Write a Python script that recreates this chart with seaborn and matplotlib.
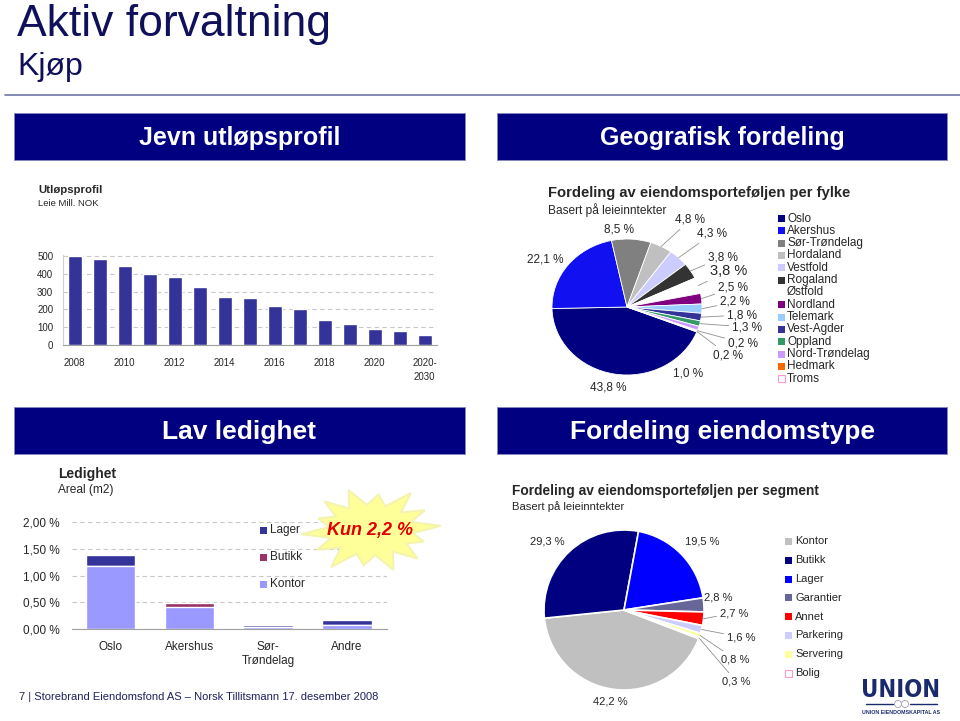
import numpy as np
import matplotlib
matplotlib.use("Agg")
import matplotlib.pyplot as plt
import seaborn as sns
from matplotlib.transforms import Affine2D
from matplotlib.patches import Rectangle, Polygon, Circle
from matplotlib.lines import Line2D

# ------------------------------------------------------------------ data
expiry_years = ["2008", "2009", "2010", "2011", "2012", "2013", "2014", "2015",
                "2016", "2017", "2018", "2019", "2020", "2021", "2020-2030"]
expiry_values = [500, 484, 443, 400, 380, 328, 268, 261, 217, 204, 140, 120, 89, 77, 55]
expiry_ticklabels = ["2008", "", "2010", "", "2012", "", "2014", "", "2016", "",
                     "2018", "", "2020", "", "2020-\n2030"]
expiry_yticks = [0, 100, 200, 300, 400, 500]

counties = ["Oslo", "Akershus", "Sør-Trøndelag", "Hordaland", "Vestfold", "Rogaland",
            "Østfold", "Nordland", "Telemark", "Vest-Agder", "Oppland",
            "Nord-Trøndelag", "Hedmark", "Troms"]
county_share = [43.8, 22.1, 8.5, 4.8, 4.3, 3.8, 3.8, 2.5, 2.2, 1.8, 1.3, 1.0, 0.2, 0.2]

vacancy_regions = ["Oslo", "Akershus", "Sør-\nTrøndelag", "Andre"]
vacancy_kontor = [1.18, 0.42, 0.03, 0.07]
vacancy_butikk = [0.00, 0.07, 0.00, 0.00]
vacancy_lager = [0.21, 0.00, 0.04, 0.10]
vacancy_types = ["Lager", "Butikk", "Kontor"]
vacancy_yticks = [0.0, 0.5, 1.0, 1.5, 2.0]

segments = ["Kontor", "Butikk", "Lager", "Garantier", "Annet", "Parkering",
            "Servering", "Bolig"]
segment_share = [42.2, 29.3, 19.5, 2.8, 2.7, 1.6, 0.8, 0.3]

# ------------------------------------------------------------------ style
NAVY = "#000080"
BAR_BLUE = "#333399"
TITLE_C = "#10105A"
county_colors = ["#000080", "#1010F0", "#808080", "#C0C0C0", "#CCCCFF", "#333333",
                 "#FFFFFF", "#800080", "#99CCFF", "#333399", "#339966", "#CC99FF",
                 "#FF6600", "#FFFFFF"]
county_edges = ["none"] * 12 + ["none", "#FF99CC"]
segment_colors = ["#C0C0C0", "#000080", "#0000FF", "#666699", "#FF0000", "#CCCCFF",
                  "#FFFF99", "#FFFFFF"]
segment_edges = ["none"] * 7 + ["#FF99CC"]
vac_colors = {"Kontor": "#9999FF", "Butikk": "#993366", "Lager": "#333399"}

sns.set_style("white")
plt.rcParams["font.family"] = ["Liberation Sans", "DejaVu Sans"]

W, H = 960, 721
fig = plt.figure(figsize=(9.6, 7.21), dpi=100)
fig.patch.set_facecolor("white")
px = Affine2D().scale(1 / W, -1 / H).translate(0, 1) + fig.transFigure


def add_ax(l, t, r, b):
    a = fig.add_axes([l / W, 1 - b / H, (r - l) / W, (b - t) / H])
    a.set_facecolor("none")
    return a


def fmt(v):
    return f"{v:.1f} %".replace(".", ",")


# ------------------------------------------------------------------ header
fig.text(17, 36, "Aktiv forvaltning", transform=px, fontsize=32, color=TITLE_C, va="baseline")
fig.text(17, 75, "Kjøp", transform=px, fontsize=23, color=TITLE_C, va="baseline")
fig.add_artist(Line2D([5, 960], [95, 95], transform=px, color="#7078A8", lw=1.2))

banners = [(14, 113, 465, 160, "Jevn utløpsprofil", 18),
           (497, 113, 947, 160, "Geografisk fordeling", 18),
           (14, 407, 465, 454, "Lav ledighet", 19),
           (497, 407, 947, 454, "Fordeling eiendomstype", 19)]
for l, t, r, b, s, fs in banners:
    fig.add_artist(Rectangle((l, t), r - l, b - t, transform=px, facecolor=NAVY,
                             edgecolor="#8888BB", lw=0.6))
    fig.text((l + r) / 2, (t + b) / 2 + 1, s, transform=px, color="white", fontsize=fs,
             fontweight="bold", ha="center", va="center")

# ------------------------------------------------------------------ expiry bars
fig.text(38, 190, "Utløpsprofil", transform=px, fontsize=8.2, fontweight="bold", va="center")
fig.text(38, 204, "Leie Mill. NOK", transform=px, fontsize=6.8, va="center")
ax1 = add_ax(63, 255, 437, 345)
sns.barplot(x=expiry_years, y=expiry_values, color=BAR_BLUE, saturation=1, width=0.56, ax=ax1)
ax1.set_xlim(-0.47, 14.5)
ax1.set_ylim(0, 505)
ax1.set_yticks(expiry_yticks)
ax1.set_xticks(range(len(expiry_years)))
ax1.set_xticklabels(expiry_ticklabels, fontsize=7, linespacing=1.6)
ax1.tick_params(axis="y", labelsize=7, length=0, pad=7)
ax1.tick_params(axis="x", length=0, pad=9)
ax1.set_xlabel("")
ax1.set_ylabel("")
ax1.yaxis.grid(True, linestyle=(0, (4, 3)), color="#C8C8C8", lw=0.8)
ax1.set_axisbelow(True)
for sp in ["top", "right"]:
    ax1.spines[sp].set_visible(False)
ax1.spines["left"].set_color("#D0D0D0")
ax1.spines["bottom"].set_color("#A0A0A0")

# ------------------------------------------------------------------ county pie
fig.text(548, 193, "Fordeling av eiendomsporteføljen per fylke", transform=px,
         fontsize=10.6, fontweight="bold", va="center")
fig.text(548, 210, "Basert på leieinntekter", transform=px, fontsize=8.6, va="center")
cx1, cy1, rx1, ry1 = 627, 307, 75, 68
ax2 = add_ax(cx1 - rx1, cy1 - ry1, cx1 + rx1, cy1 + ry1)
w1, _ = ax2.pie(county_share, colors=county_colors, startangle=-21.5, counterclock=False,
                wedgeprops=dict(edgecolor="white", linewidth=0.6))
ax2.set_aspect("auto")
ax2.set_xlim(-1, 1)
ax2.set_ylim(-1, 1)
p1_pos = [(608, 387), (545, 259), (619, 230), (690, 220), (712, 234), (723, 257),
          (729, 271), (733, 288), (735, 302), (742, 315), (747, 327), (688, 373),
          (743, 343), (728, 355)]
p1_line = [False, False, False, True, True, True, True, True, True, True, True, False,
           True, True]
p1_size = [8.5] * 6 + [10.5] + [8.5] * 7
for w, v, (lx, ly), ln, fs in zip(w1, county_share, p1_pos, p1_line, p1_size):
    m = np.deg2rad((w.theta1 + w.theta2) / 2)
    xt, yt = (lx - cx1) / rx1, (cy1 - ly) / ry1
    if ln:
        ax2.annotate(fmt(v), xy=(np.cos(m), np.sin(m)), xytext=(xt, yt), ha="center",
                     va="center", fontsize=fs, annotation_clip=False,
                     arrowprops=dict(arrowstyle="-", color="#909090", lw=0.6,
                                     shrinkA=0, shrinkB=0))
    else:
        ax2.text(xt, yt, fmt(v), ha="center", va="center", fontsize=fs)
for i, (name, c, ec) in enumerate(zip(counties, county_colors, county_edges)):
    yy = 218.5 + i * 12.33
    fig.add_artist(Rectangle((777.5, yy - 3.5), 7, 7, transform=px, facecolor=c,
                             edgecolor=ec, lw=0.8))
    fig.text(787, yy, name, transform=px, fontsize=8.5, va="center")

# ------------------------------------------------------------------ vacancy bars
fig.text(58, 474, "Ledighet", transform=px, fontsize=10, fontweight="bold", va="center")
fig.text(58, 490, "Areal (m2)", transform=px, fontsize=8.6, va="center")
ax3 = add_ax(72, 522, 387, 629)
tot = [k + b + l for k, b, l in zip(vacancy_kontor, vacancy_butikk, vacancy_lager)]
kb = [k + b for k, b in zip(vacancy_kontor, vacancy_butikk)]
sns.barplot(x=vacancy_regions, y=tot, color=vac_colors["Lager"], saturation=1, width=0.63, ax=ax3)
sns.barplot(x=vacancy_regions, y=kb, color=vac_colors["Butikk"], saturation=1, width=0.63, ax=ax3)
sns.barplot(x=vacancy_regions, y=vacancy_kontor, color=vac_colors["Kontor"], saturation=1,
            width=0.63, ax=ax3)
ax3.set_xlim(-0.49, 3.51)
ax3.set_ylim(0, 2.0)
ax3.set_yticks(vacancy_yticks)
ax3.set_yticklabels([f"{t:.2f} %".replace(".", ",") for t in vacancy_yticks])
ax3.tick_params(axis="y", labelsize=8.5, length=0, pad=9)
ax3.tick_params(axis="x", labelsize=8.5, length=0, pad=9)
ax3.set_xlabel("")
ax3.set_ylabel("")
ax3.yaxis.grid(True, linestyle=(0, (4, 3)), color="#C8C8C8", lw=0.8)
ax3.set_axisbelow(True)
for sp in ["top", "right", "left"]:
    ax3.spines[sp].set_visible(False)
ax3.spines["bottom"].set_color("#A0A0A0")
for i, name in enumerate(vacancy_types):
    yy = 530 + i * 27
    fig.add_artist(Rectangle((259.5, yy - 3.5), 7, 7, transform=px,
                             facecolor=vac_colors[name], edgecolor="none"))
    fig.text(270, yy, name, transform=px, fontsize=8.5, va="center")

# starburst callout
n = 14
ang = np.linspace(0, 2 * np.pi, 2 * n, endpoint=False) + 0.1
rfac = np.where(np.arange(2 * n) % 2 == 0, 1.0, 0.6)
rfac = rfac * np.array([1, 1, 0.9, 1, 1.05, 1, 0.85, 1, 1, 1, 0.95, 1, 0.8, 1] * 2)
sx = 371 + 70 * rfac * np.cos(ang)
sy = 530 - 42 * rfac * np.sin(ang)
fig.add_artist(Polygon(np.column_stack([sx, sy]), closed=True, transform=px,
                       facecolor="#FFFF99", edgecolor="#F4F4B0", lw=1.5))
fig.text(370, 531, "Kun 2,2 %", transform=px, fontsize=13, fontweight="bold",
         fontstyle="italic", color="#E00000", ha="center", va="center")

# ------------------------------------------------------------------ segment pie
fig.text(512, 491, "Fordeling av eiendomsporteføljen per segment", transform=px,
         fontsize=9.9, fontweight="bold", va="center")
fig.text(512, 507, "Basert på leieinntekter", transform=px, fontsize=8.1, va="center")
cx2, cy2, r2 = 624, 610, 80
ax4 = add_ax(cx2 - r2, cy2 - r2, cx2 + r2, cy2 + r2)
w2, _ = ax4.pie(segment_share, colors=segment_colors, startangle=-21, counterclock=False,
                wedgeprops=dict(edgecolor="white", linewidth=1.2))
ax4.set_aspect("auto")
ax4.set_xlim(-1, 1)
ax4.set_ylim(-1, 1)
p2_pos = [(610, 702), (547, 541), (702, 541), (718, 597), (734, 613), (741, 637),
          (735, 659), (736, 681)]
p2_line = [False, False, False, False, True, True, True, True]
for w, v, (lx, ly), ln in zip(w2, segment_share, p2_pos, p2_line):
    m = np.deg2rad((w.theta1 + w.theta2) / 2)
    xt, yt = (lx - cx2) / r2, (cy2 - ly) / r2
    if ln:
        ax4.annotate(fmt(v), xy=(np.cos(m), np.sin(m)), xytext=(xt, yt), ha="center",
                     va="center", fontsize=8, annotation_clip=False,
                     arrowprops=dict(arrowstyle="-", color="#909090", lw=0.6,
                                     shrinkA=0, shrinkB=0))
    else:
        ax4.text(xt, yt, fmt(v), ha="center", va="center", fontsize=8)
for i, (name, c, ec) in enumerate(zip(segments, segment_colors, segment_edges)):
    yy = 541.5 + i * 18.8
    fig.add_artist(Rectangle((784.5, yy - 3.5), 7, 7, transform=px, facecolor=c,
                             edgecolor=ec, lw=0.8))
    fig.text(795, yy, name, transform=px, fontsize=8, va="center")

# ------------------------------------------------------------------ footer & logo
fig.text(19, 697, "7 | Storebrand Eiendomsfond AS \u2013 Norsk Tillitsmann 17. desember 2008",
         transform=px, fontsize=8, color="#202060", va="center")
fig.text(901, 697, "UNION", transform=px, fontsize=17, fontweight="bold", color="#1A2A6C",
         ha="center", va="baseline", family=["DejaVu Sans"], fontstretch="condensed")
fig.add_artist(Line2D([866, 893], [704, 704], transform=px, color="#1A2A6C", lw=1))
fig.add_artist(Line2D([910, 937], [704, 704], transform=px, color="#1A2A6C", lw=1))
fig.add_artist(Circle((898, 704), 3.5, transform=px, facecolor="white", edgecolor="#A0A0B0", lw=0.6))
fig.add_artist(Circle((905, 704), 3.5, transform=px, facecolor="white", edgecolor="#A0A0B0", lw=0.6))
fig.text(901, 713, "UNION EIENDOMSKAPITAL AS", transform=px, fontsize=3.8,
         fontweight="bold", color="#1A2A6C", ha="center", va="center")

fig.savefig("out.png", dpi=100)
